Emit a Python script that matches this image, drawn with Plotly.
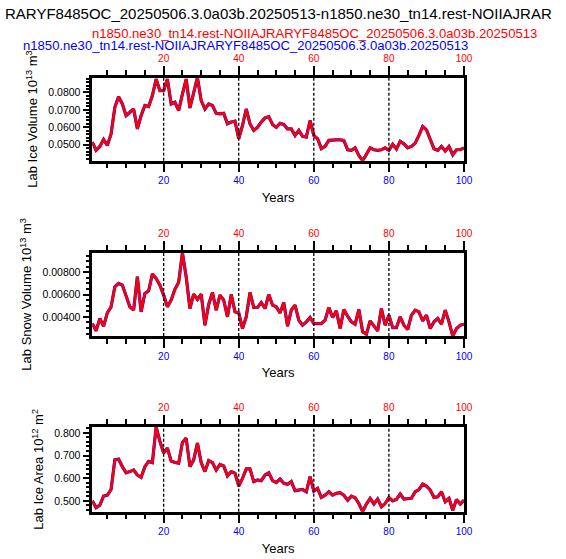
import plotly.graph_objects as go

# model years on the x axis
years = list(range(1, 101))

# Lab Ice Volume (10^13 m^3)
ice_volume = [
    0.0515, 0.0468, 0.0490, 0.0530, 0.0496, 0.0562, 0.0715, 0.0776, 0.0734, 0.0667,
    0.0686, 0.0705, 0.0591, 0.0667, 0.0725, 0.0719, 0.0782, 0.0877, 0.0810, 0.0810,
    0.0877, 0.0734, 0.0744, 0.0696, 0.0791, 0.0877, 0.0711, 0.0791, 0.0886, 0.0753,
    0.0705, 0.0734, 0.0725, 0.0680, 0.0677, 0.0680, 0.0620, 0.0630, 0.0635, 0.0534,
    0.0610, 0.0705, 0.0620, 0.0582, 0.0600, 0.0630, 0.0654, 0.0661, 0.0616, 0.0600,
    0.0623, 0.0616, 0.0591, 0.0591, 0.0553, 0.0582, 0.0548, 0.0544, 0.0639, 0.0553,
    0.0534, 0.0477, 0.0490, 0.0525, 0.0528, 0.0528, 0.0528, 0.0525, 0.0471, 0.0468,
    0.0482, 0.0438, 0.0408, 0.0444, 0.0482, 0.0471, 0.0468, 0.0471, 0.0482, 0.0468,
    0.0502, 0.0475, 0.0519, 0.0505, 0.0482, 0.0490, 0.0509, 0.0553, 0.0605, 0.0585,
    0.0534, 0.0477, 0.0468, 0.0490, 0.0464, 0.0490, 0.0442, 0.0471, 0.0471, 0.0482,
]

# Lab Snow Volume (10^13 m^3)
snow_volume = [
    0.00340, 0.00274, 0.00385, 0.00316, 0.00436, 0.00490, 0.00670, 0.00700, 0.00685, 0.00595,
    0.00490, 0.00460, 0.00760, 0.00445, 0.00610, 0.00634, 0.00785, 0.00745, 0.00685, 0.00595,
    0.00490, 0.00550, 0.00647, 0.00710, 0.00975, 0.00760, 0.00475, 0.00604, 0.00556, 0.00604,
    0.00325, 0.00511, 0.00619, 0.00460, 0.00595, 0.00550, 0.00400, 0.00601, 0.00445, 0.00436,
    0.00295, 0.00400, 0.00619, 0.00484, 0.00484, 0.00529, 0.00475, 0.00601, 0.00505, 0.00490,
    0.00436, 0.00529, 0.00316, 0.00460, 0.00505, 0.00370, 0.00325, 0.00355, 0.00394, 0.00340,
    0.00340, 0.00340, 0.00370, 0.00484, 0.00394, 0.00454, 0.00295, 0.00466, 0.00406, 0.00355,
    0.00334, 0.00466, 0.00265, 0.00244, 0.00364, 0.00316, 0.00274, 0.00475, 0.00325, 0.00415,
    0.00304, 0.00304, 0.00400, 0.00325, 0.00286, 0.00415, 0.00460, 0.00445, 0.00364, 0.00415,
    0.00295, 0.00355, 0.00385, 0.00334, 0.00460, 0.00355, 0.00228, 0.00295, 0.00325, 0.00334,
]

# Lab Ice Area (10^12 m^2)
ice_area = [
    0.500, 0.470, 0.481, 0.521, 0.525, 0.550, 0.681, 0.684, 0.651, 0.624,
    0.629, 0.636, 0.614, 0.604, 0.651, 0.674, 0.669, 0.826, 0.763, 0.711,
    0.733, 0.676, 0.669, 0.666, 0.758, 0.777, 0.651, 0.681, 0.755, 0.669,
    0.629, 0.678, 0.669, 0.636, 0.661, 0.654, 0.610, 0.629, 0.622, 0.565,
    0.599, 0.641, 0.641, 0.585, 0.592, 0.589, 0.614, 0.624, 0.589, 0.581,
    0.596, 0.577, 0.573, 0.585, 0.545, 0.548, 0.550, 0.540, 0.607, 0.543,
    0.555, 0.515, 0.525, 0.540, 0.525, 0.533, 0.536, 0.525, 0.503, 0.521,
    0.514, 0.488, 0.452, 0.486, 0.511, 0.486, 0.508, 0.474, 0.488, 0.515,
    0.500, 0.506, 0.530, 0.508, 0.511, 0.511, 0.540, 0.550, 0.574, 0.565,
    0.548, 0.515, 0.518, 0.540, 0.496, 0.511, 0.458, 0.506, 0.486, 0.503,
]

main_title = "RARYF8485OC_20250506.3.0a03b.20250513-n1850.ne30_tn14.rest-NOIIAJRAR"
case_test = "n1850.ne30_tn14.rest-NOIIAJRARYF8485OC_20250506.3.0a03b.20250513"
case_ctrl = "n1850.ne30_tn14.rest-NOIIAJRARYF8485OC_20250506.3.0a03b.20250513"

x_ticks = [20, 40, 60, 80, 100]
dash_years = [20, 40, 60, 80]

W, H = 566, 559
FONT = "Liberation Sans, Arial, Helvetica, sans-serif"


def px_x(v):
    return v / W


def px_y(v):
    return 1 - v / H


panels = [
    # (values, y title, tick format, dtick, minor dtick, top px, bottom px)
    (ice_volume, "Lab Ice Volume 10<sup>13</sup> m<sup>3</sup>", ".4f", 0.01, 0.002, 77.5, 160.7),
    (snow_volume, "Lab Snow Volume 10<sup>13</sup> m<sup>3</sup>", ".5f", 0.002, 0.0005, 252.8, 336.0),
    (ice_area, "Lab Ice Area 10<sup>12</sup> m<sup>2</sup>", ".3f", 0.1, 0.02, 427.0, 511.7),
]

x_dom = [px_x(93.8), px_x(471.5)]

fig = go.Figure()
layout = {}
shapes = []

for i, (vals, ytitle, fmt, dt, mdt, top, bot) in enumerate(panels):
    n = i + 1
    xb = "x" if n == 1 else f"x{n}"
    yb = "y" if n == 1 else f"y{n}"
    xt_n = n + 3
    xt = f"x{xt_n}"

    fig.add_trace(go.Scatter(x=years, y=vals, xaxis=xb, yaxis=yb, mode="lines",
                             line=dict(color="blue", width=3.2), name=case_ctrl,
                             showlegend=False))
    fig.add_trace(go.Scatter(x=years, y=vals, xaxis=xb, yaxis=yb, mode="lines",
                             line=dict(color="red", width=2.6), name=case_test,
                             showlegend=False))
    # invisible trace so the top axis gets drawn
    fig.add_trace(go.Scatter(x=[years[0]], y=[vals[0]], xaxis=xt, yaxis=yb, mode="lines",
                             line=dict(width=0), hoverinfo="skip", showlegend=False))

    axis_common = dict(
        range=[1, 100], tickvals=x_ticks, ticks="outside", ticklen=9, tickwidth=2.2,
        tickcolor="black", showline=True, linewidth=2.5, linecolor="black",
        showgrid=False, zeroline=False,
        minor=dict(ticks="outside", dtick=5, tick0=0, ticklen=5, tickwidth=1.5,
                   tickcolor="black", showgrid=False),
    )
    layout["xaxis" if n == 1 else f"xaxis{n}"] = dict(
        axis_common, domain=x_dom, anchor=yb, side="bottom",
        tickfont=dict(color="blue", size=10, family=FONT),
        title=dict(text="Years", font=dict(size=13, color="black", family=FONT), standoff=8),
    )
    layout[f"xaxis{xt_n}"] = dict(
        axis_common, domain=x_dom, anchor=yb, side="top", overlaying=xb,
        tickfont=dict(color="red", size=10, family=FONT),
    )
    layout["yaxis" if n == 1 else f"yaxis{n}"] = dict(
        domain=[px_y(bot), px_y(top)], anchor=xb,
        range=[min(vals), max(vals)], tick0=0, dtick=dt, tickformat=fmt,
        ticks="outside", ticklen=7, tickwidth=2.2, tickcolor="black",
        showline=True, linewidth=2.5, linecolor="black", mirror=True,
        showgrid=False, zeroline=False,
        tickfont=dict(color="black", size=10.5, family=FONT),
        minor=dict(ticks="outside", dtick=mdt, tick0=0, ticklen=4, tickwidth=1.5,
                   tickcolor="black", showgrid=False),
        title=dict(text=ytitle, font=dict(size=13, color="black", family=FONT), standoff=8),
    )
    for yr in dash_years:
        shapes.append(dict(type="line", xref=xb, yref=f"{yb} domain", x0=yr, x1=yr,
                           y0=0, y1=1, line=dict(color="black", width=1.3, dash="3px,2px")))


def label(text, x, y, size, color):
    return dict(text=text, x=px_x(x), y=px_y(y), xref="paper", yref="paper",
                xanchor="left", yanchor="middle", showarrow=False,
                borderpad=0, borderwidth=0,
                font=dict(size=size, color=color, family=FONT))


annotations = [
    label(main_title, 5, 13, 15.0, "black"),
    label(case_test, 93, 33.5, 13.1, "red"),
    label(case_ctrl, 23, 46, 13.1, "blue"),
]

fig.update_layout(
    width=W, height=H,
    margin=dict(l=0, r=0, t=0, b=0),
    paper_bgcolor="white", plot_bgcolor="white",
    shapes=shapes, annotations=annotations,
    font=dict(family=FONT),
    **layout,
)

# drop the browser's default body margin so the figure fills the window
fig.write_html("out.html", config={"displayModeBar": False},
               post_script="document.body.style.margin = '0';")
